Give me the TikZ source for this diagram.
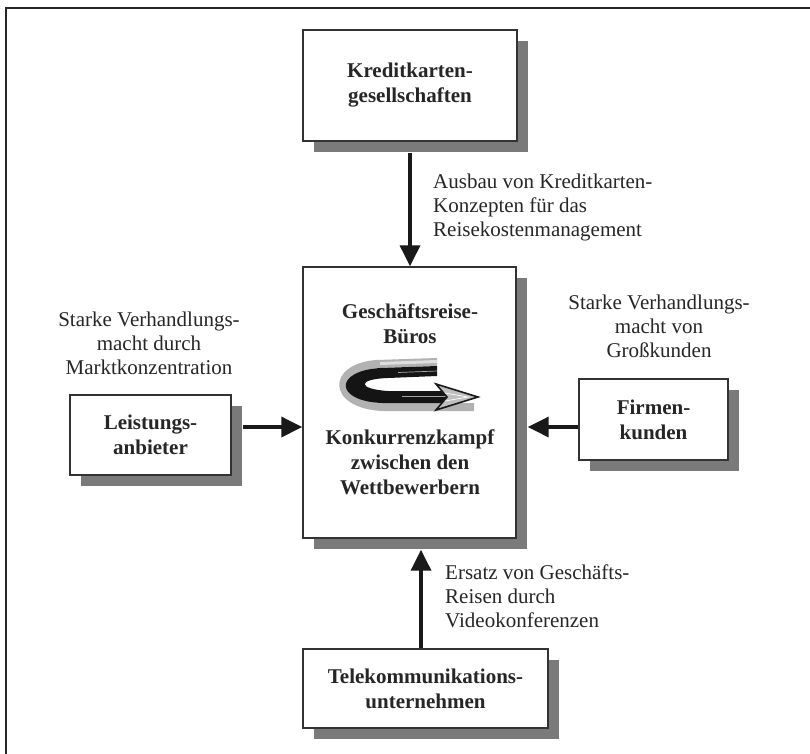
\documentclass[tikz,border=0pt]{standalone}
\usepackage{fontspec}
\setmainfont{Liberation Serif}
\usetikzlibrary{arrows.meta,shadows}
\definecolor{shadowgray}{gray}{0.48}
\definecolor{inkgray}{gray}{0.15}
\begin{document}
\begin{tikzpicture}[x=1pt,y=-1pt,
  txt/.style={font=\fontsize{21}{24}\selectfont, text=inkgray, inner sep=0pt},
  boxtxt/.style={font=\fontsize{21}{25}\selectfont\bfseries, text=inkgray},
  sbox/.style={draw=black!80, line width=1.4pt, fill=white, align=center,
    drop shadow={shadow xshift=11pt, shadow yshift=-11pt, opacity=1, fill=shadowgray}},
  arr/.style={line width=3.5pt, draw=black!90, -{Triangle[length=21pt,width=20pt]}}]
\useasboundingbox (0,0) rectangle (810,753);
\clip (0,0) rectangle (810,753);
\draw[line width=2pt, black!85] (6,8) rectangle (840,790);

% boxes
\node[sbox, boxtxt, minimum width=214pt, minimum height=111pt] (kredit) at (410,85.5) {Kreditkarten-\\gesellschaften};
\node[sbox, minimum width=213pt, minimum height=271pt] (central) at (409.5,402.5) {};
\node[sbox, boxtxt, minimum width=161pt, minimum height=80pt] (leistung) at (150.5,435) {Leistungs-\\anbieter};
\node[sbox, boxtxt, minimum width=149pt, minimum height=81pt] (firmen) at (653.5,419.5) {Firmen-\\kunden};
\node[sbox, boxtxt, minimum width=245pt, minimum height=79pt] (telekom) at (425.5,688.5) {Telekommunikations-\\unternehmen};

% central texts
\node[boxtxt, inner sep=0pt, align=center, anchor=north] (ctop) at (410,303.5) {Geschäftsreise-\\Büros};
\node[boxtxt, inner sep=0pt, align=center, anchor=north] (cbot) at (410,429.5) {Konkurrenzkampf\\zwischen den\\Wettbewerbern};

% swoosh graphic
\fill[gray!60] (437,358) -- (376,360) .. controls (326,364) and (326,408) .. (382,411) -- (474,411) -- (474,403) -- (382,403) .. controls (345,401) and (345,370) .. (378,368) -- (437,366) -- cycle;
\fill[gray!25] (437,360) -- (380,362) -- (380,365) -- (437,363) -- cycle;
\fill[black!92] (437,366) -- (380,368) .. controls (334,371) and (334,401) .. (382,403) -- (452,403) -- (452,391) -- (388,391) .. controls (357,389) and (357,379) .. (388,378) -- (437,376) -- cycle;
\draw[gray!70, line width=0.7pt] (437,371) -- (398,372.5);
\draw[gray!70, line width=0.7pt] (447,396.5) -- (402,396.5);
\filldraw[fill=gray!50, draw=black!90, line width=1.6pt, line join=miter] (436,384) -- (478,397) -- (436,410) -- (447,397) -- cycle;
\draw[white, line width=0.7pt] (445,393) -- (468,397) -- (445,401);

% arrows
\draw[arr] ([yshift=-11pt]kredit.south) -- (kredit.south |- central.north);
\coordinate (bstart) at ([xshift=-4.5pt]telekom.north);
\coordinate (csb) at ([yshift=-11pt]central.south);
\draw[arr] (bstart) -- (bstart |- csb);
\coordinate (lstart) at ([shift={(11pt,8pt)}]leistung.east);
\draw[arr] (lstart) -- (lstart -| central.west);
\coordinate (rstart) at ([yshift=-7.5pt]firmen.west);
\coordinate (ceS) at ([xshift=11pt]central.east);
\draw[arr] (rstart) -- (rstart -| ceS);

% labels
\node[txt, align=left, anchor=north west] (lkredit) at (433,173.5) {Ausbau von Kreditkarten-\\Konzepten für das\\Reisekostenmanagement};
\node[txt, align=center, anchor=north] (lleist) at (149,311.5) {Starke Verhandlungs-\\macht durch\\Marktkonzentration};
\node[txt, align=center, anchor=north] (lfirm) at (659,294.5) {Starke Verhandlungs-\\macht von\\Großkunden};
\node[txt, align=left, anchor=north west] (ltele) at (445,564.5) {Ersatz von Geschäfts-\\Reisen durch\\Videokonferenzen};
\end{tikzpicture}
\end{document}
